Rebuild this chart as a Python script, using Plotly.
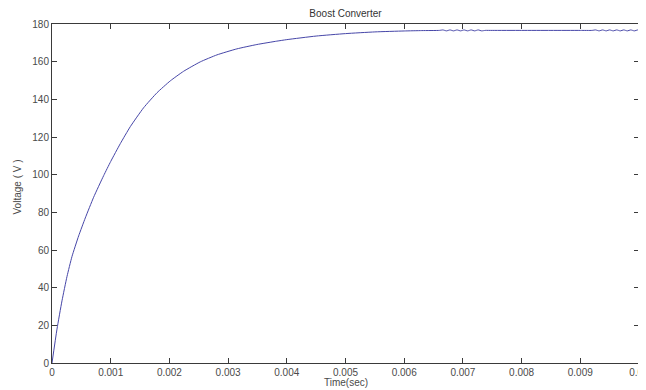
import plotly.graph_objects as go

# Data (time in s, voltage in V)
time_s = [0.0, 0.000085, 0.00017, 0.000256, 0.00034, 0.000454, 0.000567, 0.000709,
          0.00088, 0.00100, 0.001164, 0.001334, 0.00156, 0.001789, 0.002015, 0.002242,
          0.002526, 0.00281, 0.00315, 0.00349, 0.00383, 0.0040, 0.0045, 0.0050,
          0.0055, 0.0060, 0.0063,
          0.00660, 0.00666, 0.00672, 0.00678, 0.00684, 0.00690, 0.00696, 0.00702,
          0.00708, 0.00714, 0.00720, 0.00726, 0.00732, 0.00738, 0.0075, 0.0080,
          0.0085, 0.0090, 0.00920, 0.00926, 0.00932, 0.00938, 0.00944, 0.00950,
          0.00956, 0.00962, 0.00968, 0.00974, 0.00980, 0.00986, 0.00992, 0.00998, 0.0100]
voltage_v = [0.0, 18.0, 33.0, 46.0, 56.5, 67.5, 77.0, 88.0,
             99.5, 107.0, 116.5, 125.5, 135.5, 143.5, 149.8, 154.9,
             159.9, 163.6, 166.8, 169.1, 170.9, 171.7, 173.6, 174.9,
             175.8, 176.3, 176.5,
             176.6, 176.85, 176.35, 176.85, 176.35, 176.85, 176.35, 176.85,
             176.35, 176.85, 176.35, 176.85, 176.35, 176.6, 176.6, 176.6,
             176.6, 176.6, 176.6, 176.85, 176.35, 176.85, 176.35, 176.85,
             176.35, 176.85, 176.35, 176.85, 176.35, 176.85, 176.35, 176.85, 176.6]

x_tick_vals = [0, 0.001, 0.002, 0.003, 0.004, 0.005, 0.006, 0.007, 0.008, 0.009, 0.01]
x_tick_text = ["0", "0.001", "0.002", "0.003", "0.004", "0.005", "0.006", "0.007", "0.008", "0.009", "0.01"]
y_tick_vals = [0, 20, 40, 60, 80, 100, 120, 140, 160, 180]

title_text = "Boost Converter"
x_title = "Time(sec)"
y_title = "Voltage ( V )"

font_family = "Liberation Sans, Arial, sans-serif"
axis_color = "#3a3a3a"
label_color = "#4a4a4a"

# The page body adds an 8px offset, so the figure is sized to fill the window from there
W, H = 638, 382
L, R, T, B = 44, 7, 16, 27

fig = go.Figure()
fig.add_trace(go.Scatter(x=time_s, y=voltage_v, mode="lines",
                         line=dict(color="#4646a8", width=1, shape="spline", smoothing=0.5),
                         showlegend=False, hoverinfo="skip"))

axis_common = dict(showline=True, linecolor=axis_color, linewidth=1, mirror="ticks",
                   ticks="inside", ticklen=5, tickcolor=axis_color, tickwidth=1,
                   showgrid=False, zeroline=False, automargin=False,
                   ticklabeloverflow="allow",
                   tickfont=dict(family=font_family, size=10, color=label_color))

fig.update_xaxes(range=[0, 0.01], tickvals=x_tick_vals, ticktext=x_tick_text, **axis_common)
fig.update_yaxes(range=[0, 180], tickvals=y_tick_vals, **axis_common)

fig.add_annotation(text=x_title, xref="paper", yref="paper", x=0.5, y=0,
                   xanchor="center", yanchor="middle", yshift=-19, showarrow=False,
                   font=dict(family=font_family, size=10, color=label_color))
fig.add_annotation(text=y_title, xref="paper", yref="paper", x=0, y=0.5,
                   xanchor="center", yanchor="middle", xshift=-(L - 9), yshift=6,
                   textangle=-90, showarrow=False,
                   font=dict(family=font_family, size=10, color=label_color))

fig.update_layout(
    width=W, height=H,
    margin=dict(l=L, r=R, t=T, b=B),
    paper_bgcolor="white", plot_bgcolor="white",
    title=dict(text=title_text, x=(L + W - R) / 2 / W, xanchor="center",
               y=1 - 5 / H, yanchor="middle", yref="container", automargin=False,
               font=dict(family=font_family, size=10, color="#333333")),
)

fig.write_html("out.html")
